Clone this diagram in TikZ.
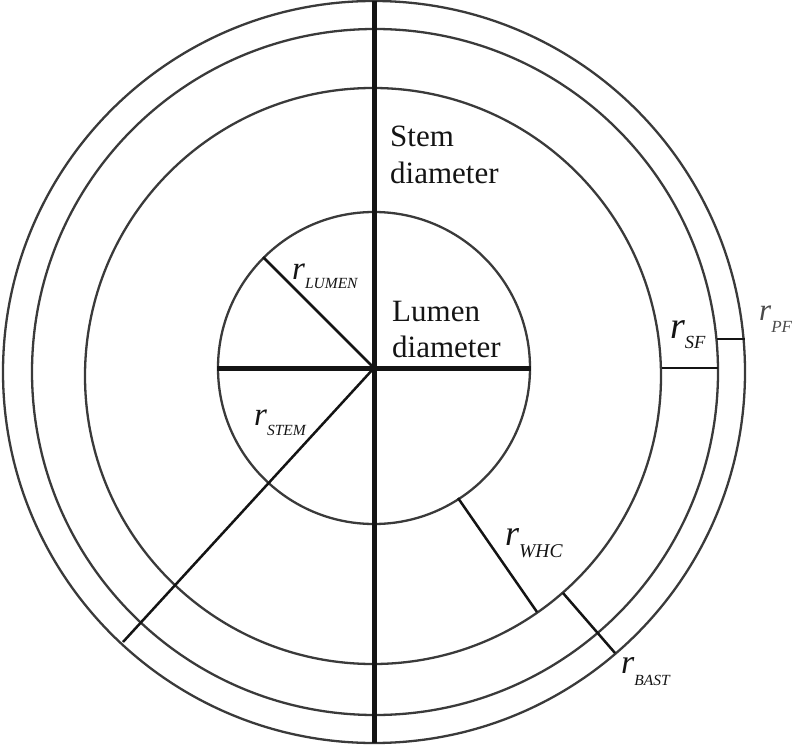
\documentclass[tikz,border=0pt]{standalone}
\usepackage{fontspec}
\setmainfont{Liberation Serif}
\definecolor{ring}{HTML}{3A3A3A}
\definecolor{ink}{HTML}{141414}
\definecolor{lightink}{HTML}{4A4A4A}
\newcommand{\rlab}[4]{{\fontsize{#1}{#1}\selectfont\itshape r}\raisebox{-#3pt}{\fontsize{#2}{#2}\selectfont\itshape #4}}
\begin{document}
\begin{tikzpicture}[x=1pt,y=-1pt,
  ringline/.style={draw=ring,line width=2.3pt},
  thick diam/.style={draw=ink,line width=5pt},
  radius line/.style={draw=ink,line width=2.5pt},
  bigtext/.style={anchor=base west,inner sep=0pt,text=ink,font=\fontsize{31}{36}\selectfont},
  rtext/.style={anchor=base west,inner sep=0pt,text=ink}]
\useasboundingbox (0,0) rectangle (800,746);
% rings
\draw[ringline] (374,372) circle[radius=371];
\draw[ringline] (375,372) circle[radius=343];
\draw[ringline] (373,376) circle[radius=288];
\draw[ringline] (374,368) circle[radius=156];
% coordinates
\coordinate (c) at (374,368);
\coordinate (vtop) at (374,1);
\coordinate (vbot) at (374,743);
\coordinate (hl) at (217,368);
\coordinate (hr) at (531,368);
\coordinate (lum) at (263,257);
\coordinate (stem) at (123,642);
\coordinate (whc1) at (458,498);
\coordinate (whc2) at (537,612);
\coordinate (bast1) at (563,593);
\coordinate (bast2) at (615,653);
\coordinate (sf1) at (662,368);
\coordinate (sf2) at (718,368);
\coordinate (pf1) at (717,339);
\coordinate (pf2) at (745,339);
% diameters
\draw[thick diam] (vtop) -- (vbot);
\draw[thick diam] (hl) -- (hr);
% radii
\draw[radius line] (c) -- (lum);
\draw[radius line] (c) -- (stem);
\draw[radius line] (whc1) -- (whc2);
\draw[radius line] (bast1) -- (bast2);
\draw[radius line] (sf1) -- (sf2);
\draw[radius line] (pf1) -- (pf2);
% texts
\node[bigtext] (stemA) at (390,147) {Stem};
\node[bigtext] (stemB) at (390,184) {diameter};
\node[bigtext] (lumA) at (392,321) {Lumen};
\node[bigtext] (lumB) at (392,357) {diameter};
\node[rtext] (lLUMEN) at (292,279) {\rlab{33}{15.5}{9.5}{LUMEN}};
\node[rtext] (lSTEM) at (254,425) {\rlab{33}{15.5}{10}{STEM}};
\node[rtext] (lSF) at (670,338) {\rlab{38}{18.5}{10}{SF}};
\node[rtext,text=lightink] (lPF) at (759,320) {\rlab{31}{17}{12}{PF}};
\node[rtext] (lWHC) at (505,545) {\rlab{36}{19.5}{12}{WHC}};
\node[rtext] (lBAST) at (621,673) {\rlab{34}{15.5}{12}{BAST}};
\end{tikzpicture}
\end{document}
